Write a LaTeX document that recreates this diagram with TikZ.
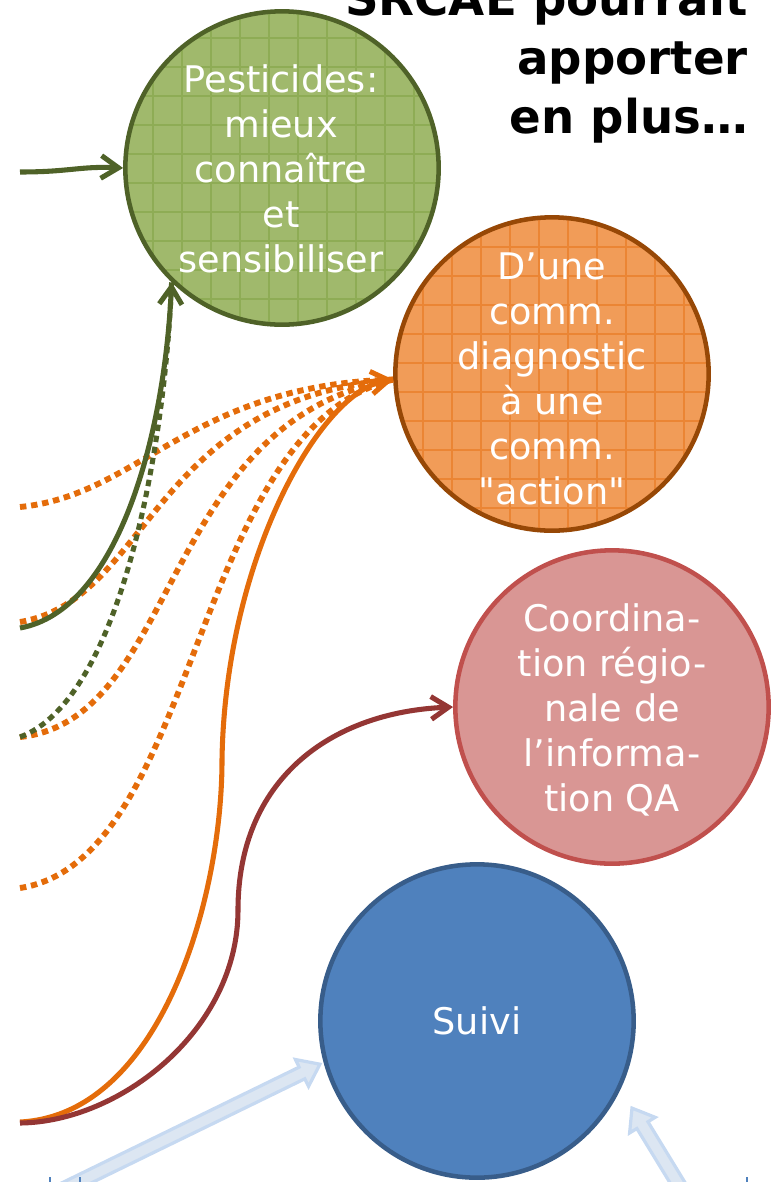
\documentclass[tikz,border=0pt]{standalone}
\usepackage{fontspec}
\setmainfont{DejaVu Sans}
\usetikzlibrary{arrows.meta}
\definecolor{greenline}{HTML}{4F6228}
\definecolor{greenfill}{HTML}{A0B96C}
\definecolor{greengrid}{HTML}{8EAC55}
\definecolor{orangefill}{HTML}{F19C58}
\definecolor{orangegrid}{HTML}{EB8534}
\definecolor{orangeborder}{HTML}{974806}
\definecolor{orangeline}{HTML}{E46C0A}
\definecolor{pinkfill}{HTML}{D99694}
\definecolor{pinkborder}{HTML}{C0504D}
\definecolor{redline}{HTML}{943634}
\definecolor{bluefill}{HTML}{4F81BD}
\definecolor{blueborder}{HTML}{385D8A}
\definecolor{arrowouter}{HTML}{C6D9F1}
\definecolor{arrowinner}{HTML}{DCE6F2}
\begin{document}
\begin{tikzpicture}[x=0.75pt,y=-0.75pt,
  circ/.style={circle, minimum size=235pt, inner sep=0pt, line width=3.4pt},
  ctext/.style={text=white, align=center, inner sep=0pt,
    font=\fontsize{27.5}{33.75}\selectfont},
  gridtex/.style n args={3}{path picture={
    \foreach \k in {-6,...,6}{
      \draw[#1, line width=0.8pt]
        ([xshift={(\k*29+#2)*0.75pt}]path picture bounding box.north) --
        ([xshift={(\k*29+#2)*0.75pt}]path picture bounding box.south);
      \draw[#1, line width=0.8pt]
        ([yshift={(\k*29+#3)*0.75pt}]path picture bounding box.west) --
        ([yshift={(\k*29+#3)*0.75pt}]path picture bounding box.east);
    }}},
  solidline/.style={line width=3.8pt},
  dotline/.style={line width=4.4pt, dash pattern=on 4.8pt off 3.6pt},
  barb/.style={-{Straight Barb[length=13pt,width=17pt]}},
  blockarrow/.style={fill=arrowinner, draw=arrowouter, line width=2.4pt, line join=miter}
]
\useasboundingbox (0,0) rectangle (776,1182);
\clip (0,0) rectangle (776,1182);

% title
\node[anchor=base east, align=right, inner sep=0pt,
  font=\bfseries\fontsize{35}{44.25}\selectfont] (title) at (748,133)
  {SRCAE pourrait\\apporter\\en plus…};

% circles
\node[circ, fill=greenfill, draw=greenline, gridtex={greengrid}{-13}{-15}] (pest) at (282,168) {};
\node[circ, fill=orangefill, draw=orangeborder, gridtex={orangegrid}{-13}{11}] (comm) at (552,374) {};
\node[circ, fill=pinkfill, draw=pinkborder] (coord) at (612,707) {};
\node[circ, fill=bluefill, draw=blueborder] (suivi) at (477,1021) {};

\node[ctext] (pesttxt) at (281,169) {Pesticides:\\mieux\\connaître\\et\\sensibiliser};
\node[ctext] (commtxt) at (552,379) {D’une\\comm.\\diagnostic\\à une\\comm.\\\textquotedbl action\textquotedbl};
\node[ctext] (coordtxt) at (612,710) {Coordina-\\tion régio-\\nale de\\l’informa-\\tion QA};
\node[ctext] (suivitxt) at (477,1021) {Suivi};

% free ends on the left
\coordinate (g1) at (20,172);
\coordinate (g2) at (20,628);
\coordinate (g3) at (20,737);
\coordinate (o1) at (20,507);
\coordinate (o2) at (20,622);
\coordinate (o3) at (20,737);
\coordinate (o4) at (20,888);
\coordinate (o5) at (20,1122);
\coordinate (r1) at (20,1123);

% orange dotted
\draw[orangeline, dotline] (o1) .. controls (140,495) and (190,385) .. (comm.182);
\draw[orangeline, dotline] (o2) .. controls (150,600) and (150,400) .. (comm.182);
\draw[orangeline, dotline] (o3) .. controls (180,720) and (160,420) .. (comm.182);
\draw[orangeline, dotline] (o4) .. controls (200,860) and (190,430) .. (comm.182);

% green
\draw[greenline, dotline, line width=3.8pt] (g3) .. controls (120,700) and (165,450) .. (pest.226);
\draw[greenline, solidline, barb] (g2) .. controls (120,610) and (165,430) .. (pest.226);
\draw[greenline, solidline, barb] (g1) .. controls (70,172) and (80,166) .. (pest.west);

% orange solid
\draw[orangeline, solidline, barb] (o5) .. controls (160,1115) and (222,900) .. (222,760)
  .. controls (225,560) and (320,390) .. (comm.182);

% dark red
\draw[redline, solidline, barb] (r1) .. controls (120,1122) and (238,1030) .. (238,910)
  .. controls (238,780) and (330,712) .. (coord.west);

% light blue block arrows towards Suivi
\coordinate (b1) at (62,1190);
\coordinate (b2) at (682,1190);
\begin{scope}[shift={(b1)}, rotate=26]
  \draw[blockarrow] (0,-6.5) -- (267,-6.5) -- (267,-15) -- (287,0) -- (267,15) -- (267,6.5) -- (0,6.5) -- cycle;
\end{scope}
\begin{scope}[shift={(b2)}, rotate=121.4]
  \draw[blockarrow] (0,-6.5) -- (76,-6.5) -- (76,-15) -- (96,0) -- (76,15) -- (76,6.5) -- (0,6.5) -- cycle;
\end{scope}

% small cut-off marks at the bottom edge
\draw[bluefill, line width=1.2pt] (50,1177) -- (50,1184);
\draw[bluefill, line width=1.2pt] (80,1177) -- (80,1184);
\draw[bluefill, line width=1.2pt] (747,1177) -- (747,1184);
\end{tikzpicture}
\end{document}
